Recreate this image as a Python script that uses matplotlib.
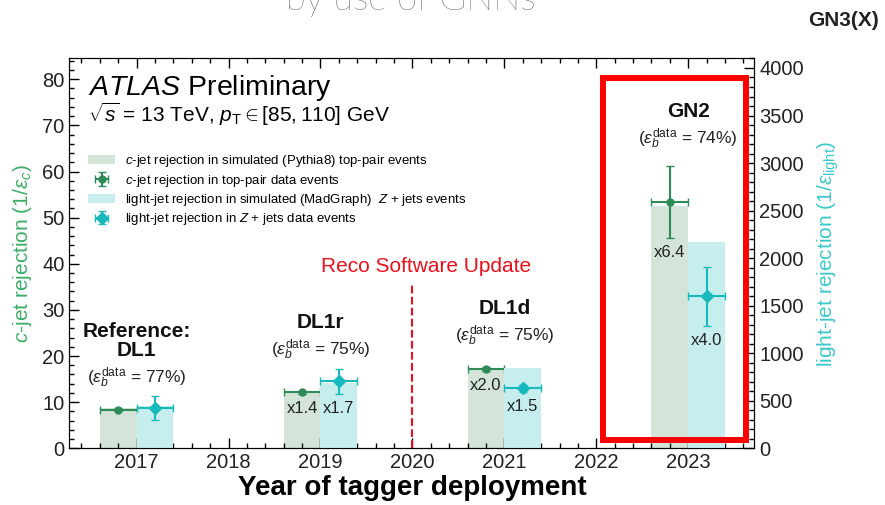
import numpy as np
import matplotlib
matplotlib.use("Agg")
import matplotlib.pyplot as plt
from matplotlib.patches import Patch, Rectangle
from matplotlib.ticker import MultipleLocator

plt.rcParams['font.family'] = ['Liberation Sans', 'DejaVu Sans']
plt.rcParams['mathtext.fontset'] = 'custom'
plt.rcParams['mathtext.rm'] = 'Liberation Sans'
plt.rcParams['mathtext.it'] = 'Liberation Sans:italic'
plt.rcParams['mathtext.bf'] = 'Liberation Sans:bold'

# data
years = [2017, 2019, 2021, 2023]
taggers = ['Reference:\nDL1', 'DL1r', 'DL1d', 'GN2']
eff_b = [77, 75, 75, 74]

c_sim = [8.7, 12.0, 17.5, 52.5]          # left axis
c_data = [8.4, 12.1, 17.2, 53.3]
c_err = [0.3, 0.3, 0.4, 7.8]
c_gain = ['', 'x1.4', 'x2.0', 'x6.4']

l_sim = [440, 682, 846, 2174]            # right axis
l_data = [420, 705, 630, 1600]
l_err = [125, 130, 40, 310]
l_gain = ['', 'x1.7', 'x1.5', 'x4.0']

# label heights (left axis units) for the tagger captions
caption_y = [15.2, 21.3, 24.3, 67.0]

green = '#2e8b57'
cyan = '#17b9bd'
green_fill = '#d4e4d8'
cyan_fill = '#c6eeee'

fig = plt.figure(figsize=(8.85, 5.05), dpi=100)
ax = fig.add_axes([0.0785, 0.1123, 0.774, 0.7719])
ax2 = ax.twinx()

x = np.array(years, dtype=float)
w = 0.4
ax.bar(x - w / 2, c_sim, width=w, color=green_fill, zorder=1)
ax2.bar(x + w / 2, l_sim, width=w, color=cyan_fill, zorder=1)

eb_c = ax.errorbar(x - w / 2, c_data, xerr=w / 2, yerr=c_err, fmt='o', ms=5,
                   color=green, ecolor=green, elinewidth=1.5, capsize=3, zorder=3)
eb_l = ax2.errorbar(x + w / 2, l_data, xerr=w / 2, yerr=l_err, fmt='D', ms=6,
                    color=cyan, ecolor=cyan, elinewidth=1.5, capsize=3, zorder=3)

for xi, yi, ei, t in zip(x - w / 2, c_data, c_err, c_gain):
    if t:
        ax.annotate(t, (xi, yi - ei), xytext=(0, -5), textcoords='offset points',
                    ha='center', va='top', fontsize=12, color='#222222')
for xi, yi, ei, t in zip(x + w / 2, l_data, l_err, l_gain):
    if t:
        ax2.annotate(t, (xi, yi - ei), xytext=(0, -5), textcoords='offset points',
                     ha='center', va='top', fontsize=12, color='#222222')

for xi, yi, name, e in zip(x, caption_y, taggers, eff_b):
    ax.text(xi, yi, r'($\varepsilon_b^{\mathrm{data}}$ = %d%%)' % e, ha='center',
            va='center', fontsize=12.5, color='#222222')
    ax.annotate(name, (xi, yi), xytext=(0, 13), textcoords='offset points',
                ha='center', va='bottom', fontsize=15, fontweight='bold',
                color='#111111', linespacing=1.0)

# reco software update
ax.plot([2020, 2020], [0, 35.7], color='#e8101a', ls='--', lw=1.5, zorder=2)
ax.text(2020.15, 39.5, 'Reco Software Update', color='#e8101a', fontsize=15,
        ha='center', va='center')

ax.set_xlim(2016.27, 2023.72)
ax.set_ylim(0, 84.5)
ax2.set_ylim(0, 4100)
ax.set_xticks(range(2017, 2024))
ax.xaxis.set_minor_locator(MultipleLocator(0.2))
ax.yaxis.set_major_locator(MultipleLocator(10))
ax.yaxis.set_minor_locator(MultipleLocator(2))
ax2.yaxis.set_major_locator(MultipleLocator(500))
ax2.yaxis.set_minor_locator(MultipleLocator(100))

ax.tick_params(axis='x', which='both', direction='in', top=True, labelsize=14.5,
               labelcolor='#222222')
ax.tick_params(axis='y', which='both', direction='in', right=False, labelsize=14.5,
               labelcolor='#222222')
ax2.tick_params(axis='y', which='both', direction='in', labelsize=14.5,
                labelcolor='#222222')
for a in (ax, ax2):
    a.tick_params(which='major', length=7, width=1)
    a.tick_params(which='minor', length=3.5, width=1)

ax.set_xlabel('Year of tagger deployment', fontsize=20, fontweight='bold', labelpad=2)
ax.set_ylabel(r'$c$-jet rejection (1/$\varepsilon_c$)', fontsize=15, color='#3cae68',
              labelpad=6)
ax2.set_ylabel(r'light-jet rejection (1/$\varepsilon_{\mathrm{light}}$)', fontsize=15,
               color='#3cc8cc', labelpad=8)

ax.text(0.027, 0.906, r'$\bf{\it{ATLAS}}$ Preliminary', transform=ax.transAxes,
        fontsize=20.5, va='baseline', ha='left')
ax.text(0.027, 0.837, r'$\sqrt{s}$ = 13 TeV, $p_{\mathrm{T}} \in [85, 110]$ GeV',
        transform=ax.transAxes, fontsize=15, va='baseline', ha='left')

handles = [Patch(facecolor=green_fill), eb_c, Patch(facecolor=cyan_fill), eb_l]
labels = [r'$c$-jet rejection in simulated (Pythia8) top-pair events',
          r'$c$-jet rejection in top-pair data events',
          r'light-jet rejection in simulated (MadGraph)  $Z$ + jets events',
          r'light-jet rejection in $Z$ + jets data events']
ax2.legend(handles, labels, loc='upper left', bbox_to_anchor=(0.02, 0.77),
           frameon=False, fontsize=9.5, labelspacing=0.25, handlelength=2.0,
           handletextpad=0.8, borderaxespad=0)

# highlight box
ax2.add_patch(Rectangle((2022.07, 1.7), 2023.63 - 2022.07, 80.3 - 1.7,
                        transform=ax.transData, fill=False, edgecolor='#ff0000',
                        lw=4.3, clip_on=False, zorder=10))

fig.text(0.464, 0.980, 'by use of GNNs', fontsize=26, fontweight='light',
         family=['Lato', 'Liberation Sans'], color='#2a2a2a', ha='center',
         va='baseline')
fig.text(0.953, 0.96, 'GN3(X)', fontsize=15, fontweight='bold', color='#222222',
         ha='center', va='center')

fig.savefig('out.png', dpi=100)
